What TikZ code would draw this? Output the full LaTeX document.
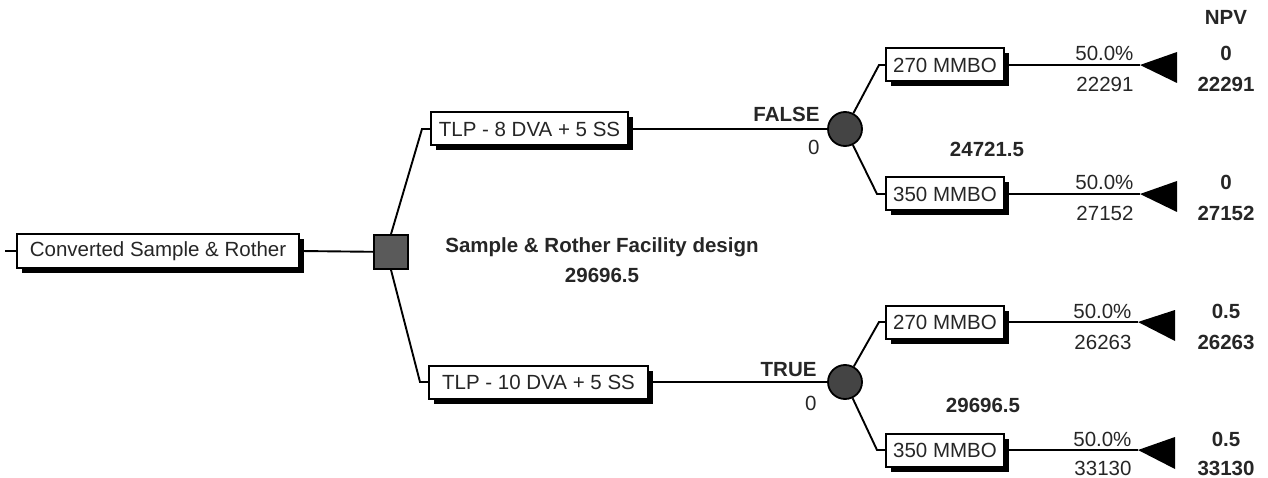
\documentclass[tikz,border=0pt]{standalone}
\usepackage{fontspec}
\setmainfont{Liberation Sans}
\usetikzlibrary{shadows}
\definecolor{inkgray}{HTML}{262626}
\definecolor{decfill}{HTML}{5A5A5A}
\definecolor{chfill}{HTML}{444444}
\begin{document}
\begin{tikzpicture}[x=1pt,y=-1pt,
  every node/.style={font=\fontsize{20.5}{24}\selectfont, text=inkgray},
  branchbox/.style={draw=black, line width=2pt, fill=white, minimum height=33pt,
    inner sep=0pt, anchor=west,
    drop shadow={shadow xshift=5pt, shadow yshift=-5pt, fill=black, opacity=1}},
  decision/.style={draw=black, line width=1.8pt, fill=decfill, minimum size=34pt, inner sep=0pt},
  chance/.style={circle, draw=black, line width=1.8pt, fill=chfill, minimum size=34pt, inner sep=0pt},
  boldlab/.style={font=\fontsize{20.5}{24}\selectfont\bfseries},
  link/.style={draw=black, line width=1.9pt},
  endtri/.style={fill=black}]
\useasboundingbox (0,0) rectangle (1268,478);

% root and decision node
\coordinate (stub) at (5,251);
\node[branchbox, minimum width=282pt] (root) at (16,251) {Converted Sample \& Rother};
\node[decision] (dec) at (391,252) {};
\node[boldlab, anchor=base] (decname) at (602,252) {Sample \& Rother Facility design};
\node[boldlab, anchor=base] (decval) at (602,282) {29696.5};

% decision alternatives
\coordinate (k8) at (422,129);
\coordinate (k10) at (420,382);
\node[branchbox, minimum width=197pt] (tlp8) at (430,129) {TLP - 8 DVA + 5 SS};
\node[branchbox, minimum width=219pt] (tlp10) at (428,382) {TLP - 10 DVA + 5 SS};

% chance nodes
\node[chance] (ch1) at (845,129) {};
\node[chance] (ch2) at (845,382) {};
\node[boldlab, anchor=base east] (f1) at (823,122) {FALSE};
\node[anchor=base east] (f0) at (823,155) {0};
\node[boldlab, anchor=base east] (t1) at (820,376) {TRUE};
\node[anchor=base east] (t0) at (820,410) {0};
\node[boldlab, anchor=base] (ev1) at (987,157) {24721.5};
\node[boldlab, anchor=base] (ev2) at (983,412) {29696.5};

% outcomes
\coordinate (e1) at (879,65);
\coordinate (e2) at (877,194);
\coordinate (e3) at (879,322);
\coordinate (e4) at (877,450);
\node[branchbox, minimum width=118pt] (o1) at (885,65) {270 MMBO};
\node[branchbox, minimum width=118pt] (o2) at (885,194) {350 MMBO};
\node[branchbox, minimum width=118pt] (o3) at (885,322) {270 MMBO};
\node[branchbox, minimum width=118pt] (o4) at (885,450) {350 MMBO};

% terminal tips
\coordinate (tip1) at (1140,65);
\coordinate (tip2) at (1140,194);
\coordinate (tip3) at (1138,322);
\coordinate (tip4) at (1138,450);

% branch probabilities and payoffs
\node[anchor=base east] (p1) at (1137,61) {50.0\%};
\node[anchor=base east] (v1) at (1137,92) {22291};
\node[anchor=base east] (p2) at (1137,190) {50.0\%};
\node[anchor=base east] (v2) at (1137,221) {27152};
\node[anchor=base east] (p3) at (1135,318) {50.0\%};
\node[anchor=base east] (v3) at (1135,349) {26263};
\node[anchor=base east] (p4) at (1135,446) {50.0\%};
\node[anchor=base east] (v4) at (1135,475) {33130};

% NPV column
\node[boldlab, anchor=base] (npv) at (1226,25) {NPV};
\node[boldlab, anchor=base] (n1a) at (1226,61) {0};
\node[boldlab, anchor=base] (n1b) at (1226,92) {22291};
\node[boldlab, anchor=base] (n2a) at (1226,190) {0};
\node[boldlab, anchor=base] (n2b) at (1226,221) {27152};
\node[boldlab, anchor=base] (n3a) at (1226,318) {0.5};
\node[boldlab, anchor=base] (n3b) at (1226,349) {26263};
\node[boldlab, anchor=base] (n4a) at (1226,446) {0.5};
\node[boldlab, anchor=base] (n4b) at (1226,475) {33130};

% connectors
\draw[link] (stub) -- (root.west);
\draw[link] (root.east) -- (dec);
\draw[link] (dec.north) -- (k8) -- (tlp8.west);
\draw[link] (dec.south) -- (k10) -- (tlp10.west);
\draw[link] (tlp8.east) -- (ch1);
\draw[link] (tlp10.east) -- (ch2);
\draw[link] (ch1) -- (e1) -- (o1.west);
\draw[link] (ch1) -- (e2) -- (o2.west);
\draw[link] (ch2) -- (e3) -- (o3.west);
\draw[link] (ch2) -- (e4) -- (o4.west);
\draw[link] (o1.east) -- (tip1);
\draw[link] (o2.east) -- (tip2);
\draw[link] (o3.east) -- (tip3);
\draw[link] (o4.east) -- (tip4);

% terminal triangles
\fill[endtri] (tip1) -- ++(37,-13) -- ++(0,31) -- cycle;
\fill[endtri] (tip2) -- ++(37,-13) -- ++(0,31) -- cycle;
\fill[endtri] (tip3) -- ++(37,-12) -- ++(0,31) -- cycle;
\fill[endtri] (tip4) -- ++(37,-13) -- ++(0,32) -- cycle;
\end{tikzpicture}
\end{document}
